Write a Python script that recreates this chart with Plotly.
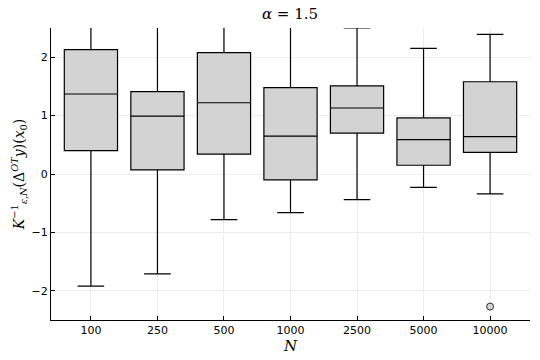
import plotly.graph_objects as go

# box statistics, one entry per N
sizes = ["100", "250", "500", "1000", "2500", "5000", "10000"]
q1 = [0.40, 0.07, 0.34, -0.10, 0.70, 0.15, 0.37]
medians = [1.37, 0.99, 1.22, 0.65, 1.13, 0.59, 0.64]
q3 = [2.13, 1.41, 2.08, 1.48, 1.51, 0.96, 1.58]
lower = [-1.92, -1.71, -0.78, -0.66, -0.44, -0.23, -0.34]
upper = [3.0, 3.0, 3.0, 3.0, 2.50, 2.15, 2.39]  # first four run off the top
outlier_x = ["10000"]
outlier_y = [-2.27]

fig = go.Figure()
fig.add_trace(
    go.Box(
        x=sizes,
        q1=q1,
        median=medians,
        q3=q3,
        lowerfence=lower,
        upperfence=upper,
        fillcolor="#d3d3d3",
        line={"color": "black", "width": 1.2},
        whiskerwidth=0.5,
        width=0.8,
        boxpoints=False,
        hoverinfo="skip",
    )
)
fig.add_trace(
    go.Scatter(
        x=outlier_x,
        y=outlier_y,
        mode="markers",
        marker={"color": "#d3d3d3", "size": 7, "line": {"color": "black", "width": 0.8}},
        hoverinfo="skip",
    )
)

axis_font = {"family": "DejaVu Sans", "size": 11, "color": "black"}
fig.update_layout(
    width=540,
    height=360,
    showlegend=False,
    plot_bgcolor="white",
    paper_bgcolor="white",
    font={"color": "black"},
    margin={"l": 51, "r": 10, "t": 28, "b": 40, "autoexpand": False},
    title={
        "text": "<i>α</i> = 1.5",
        "x": 0.537,
        "xanchor": "center",
        "y": 0.962,
        "yanchor": "middle",
        "font": {"family": "DejaVu Serif", "size": 15, "color": "black"},
    },
)
fig.update_xaxes(
    type="category",
    categoryorder="array",
    categoryarray=sizes,
    range=[-0.6, 6.6],
    automargin=False,
    showline=True,
    linecolor="black",
    linewidth=1,
    mirror=False,
    ticks="inside",
    ticklen=4,
    tickcolor="black",
    showgrid=True,
    gridcolor="#ececec",
    tickfont=axis_font,
    title={"text": "<i>N</i>", "font": {"family": "DejaVu Serif", "size": 15, "color": "black"}, "standoff": 2},
)
fig.update_yaxes(
    range=[-2.5, 2.5],
    tickvals=[-2, -1, 0, 1, 2],
    ticktext=["\u22122", "\u22121", "0", "1", "2"],
    automargin=False,
    showline=True,
    linecolor="black",
    linewidth=1,
    ticks="inside",
    ticklen=4,
    tickcolor="black",
    showgrid=True,
    gridcolor="#ececec",
    zeroline=False,
    tickfont=axis_font,
    title={
        "text": "<i>K</i><sup>\u22121</sup><sub><i>ε,N</i></sub>(Δ<sup><i>OT</i></sup><i>y</i>)(<i>x</i><sub>0</sub>)",
        "font": {"family": "DejaVu Serif", "size": 14, "color": "black"},
        "standoff": 3,
    },
)

# the page's default 8px body margin would push the figure off the window
fig.write_html(
    "out.html",
    config={"displayModeBar": False},
    post_script="document.body.style.margin = '0';",
)
